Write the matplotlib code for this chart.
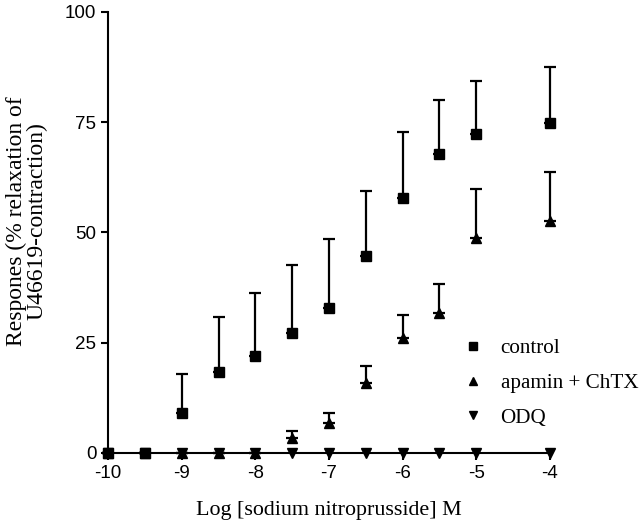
import matplotlib
matplotlib.use("Agg")
import matplotlib.pyplot as plt
import numpy as np
from matplotlib.lines import Line2D

plt.rcParams["axes.unicode_minus"] = False

log_conc = [-10, -9.5, -9, -8.5, -8, -7.5, -7, -6.5, -6, -5.5, -5, -4]

control_mean = [0, 0, 9.0, 18.3, 22.0, 27.3, 32.8, 44.6, 57.9, 67.7, 72.3, 74.8]
control_err = [0, 0, 8.9, 12.5, 14.3, 15.3, 15.6, 14.7, 14.9, 12.3, 12.1, 12.8]

apamin_mean = [0, 0, 0, 0, 0, 3.3, 6.7, 15.8, 26.0, 31.7, 48.7, 52.6]
apamin_err = [0, 0, 0, 0, 0, 1.7, 2.3, 3.9, 5.3, 6.6, 11.1, 11.1]

odq_mean = [0, 0, 0, 0, 0, 0, 0, 0, 0, 0, 0, 0]

labels = ["control", "apamin + ChTX", "ODQ"]

fig = plt.figure(figsize=(6.4, 5.29), dpi=100)
ax = fig.add_axes([0.169, 0.1437, 0.69, 0.834])

sans = "Liberation Sans"
serif = "Liberation Serif"

ekw = dict(fmt="none", ecolor="black", elinewidth=1.6, capsize=4.5, capthick=1.6, zorder=2)
for m, e in ((control_mean, control_err), (apamin_mean, apamin_err)):
    eb = ax.errorbar(log_conc, m, yerr=[np.zeros(len(e)), e], **ekw)
    for art in eb.lines[1] + eb.lines[2]:
        art.set_clip_on(False)

ms = 7
ax.plot(log_conc, odq_mean, linestyle="none", marker="v", color="black", markersize=ms, zorder=3, clip_on=False)
ax.plot(log_conc, apamin_mean, linestyle="none", marker="^", color="black", markersize=ms, zorder=3, clip_on=False)
ax.plot(log_conc, control_mean, linestyle="none", marker="s", color="black", markersize=ms, zorder=4, clip_on=False)

ax.set_xlim(-10, -4)
ax.set_ylim(0, 100)
ax.set_xticks([-10, -9, -8, -7, -6, -5, -4])
ax.set_yticks([0, 25, 50, 75, 100])
ax.spines["top"].set_visible(False)
ax.spines["right"].set_visible(False)
for s in ("left", "bottom"):
    ax.spines[s].set_linewidth(1.5)
ax.tick_params(direction="out", length=5, width=1.5, labelsize=13.5)
for lab in ax.get_xticklabels() + ax.get_yticklabels():
    lab.set_fontfamily(sans)

ax.set_xlabel("Log [sodium nitroprusside] M", fontfamily=serif, fontsize=15.8)
ax.xaxis.set_label_coords(0.5, -0.109)
ax.set_ylabel("Respones (% relaxation of\nU46619-contraction)", fontfamily=serif, fontsize=17, linespacing=0.92)
ax.yaxis.set_label_coords(-0.138, 0.526)

handles = [
    Line2D([], [], linestyle="none", marker="s", color="black", markersize=6),
    Line2D([], [], linestyle="none", marker="^", color="black", markersize=6),
    Line2D([], [], linestyle="none", marker="v", color="black", markersize=6),
]
ax.legend(handles, labels, loc="center left", bbox_to_anchor=(460.5 / 640, 1 - 383 / 529),
          bbox_transform=fig.transFigure, frameon=False, borderaxespad=0, borderpad=0,
          prop={"family": serif, "size": 15.2}, handletextpad=0.7, labelspacing=0.71,
          handlelength=1.2)

fig.savefig("out.png", dpi=100)
